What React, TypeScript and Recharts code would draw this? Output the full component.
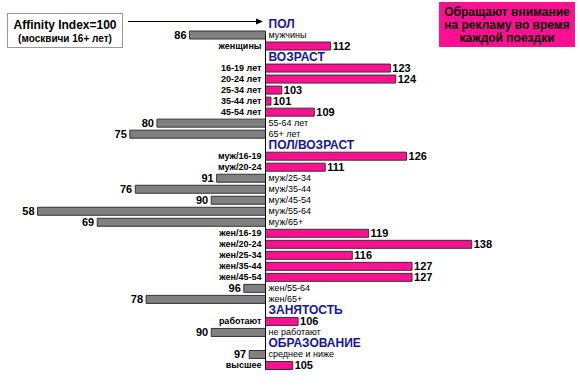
import React from 'react';
import { BarChart, Bar, XAxis, YAxis, Cell, LabelList, ReferenceLine } from 'recharts';

// rows top to bottom; null value = section header
const categories = [
  'ПОЛ', 'мужчины', 'женщины',
  'ВОЗРАСТ', '16-19 лет', '20-24 лет', '25-34 лет', '35-44 лет', '45-54 лет', '55-64 лет', '65+ лет',
  'ПОЛ/ВОЗРАСТ', 'муж/16-19', 'муж/20-24', 'муж/25-34', 'муж/35-44', 'муж/45-54', 'муж/55-64', 'муж/65+',
  'жен/16-19', 'жен/20-24', 'жен/25-34', 'жен/35-44', 'жен/45-54', 'жен/55-64', 'жен/65+',
  'ЗАНЯТОСТЬ', 'работают', 'не работают',
  'ОБРАЗОВАНИЕ', 'среднее и ниже', 'высшее',
];
const values: (number | null)[] = [
  null, 86, 112,
  null, 123, 124, 103, 101, 109, 80, 75,
  null, 126, 111, 91, 76, 90, 58, 69,
  119, 138, 116, 127, 127, 96, 78,
  null, 106, 90,
  null, 97, 105,
];
const BASE = 100;

const data = categories.map((name, i) => ({
  name,
  value: values[i],
  delta: values[i] == null ? null : (values[i] as number) - BASE,
}));

const W = 580;
const H = 392;
const YW = 1;
const M = { top: 18, right: 54, bottom: 21.5, left: 4 };
const XMIN = -48;
const XMAX = 48;
const CX = M.left + YW + ((W - M.left - YW - M.right) * (0 - XMIN)) / (XMAX - XMIN);

const PINK = '#FF1090';
const GREY = '#808080';
const FONT = '"Liberation Sans", Arial, sans-serif';

const renderTick = (props: any) => {
  const { y, payload } = props;
  const row = data.find(d => d.name === payload?.value);
  if (!row) return <g />;
  if (row.value == null) {
    return (
      <text x={CX + 3} y={y} dy={4} fontSize={12} fontWeight="bold" fill="#1515a0" fontFamily={FONT}>
        {row.name}
      </text>
    );
  }
  const pos = row.value >= BASE;
  return (
    <text
      x={pos ? CX - 4 : CX + 3}
      y={y}
      dy={3}
      textAnchor={pos ? 'end' : 'start'}
      fontSize={9}
      fontWeight={pos ? 'bold' : 'normal'}
      fill="#000"
      fontFamily={FONT}
    >
      {row.name}
    </text>
  );
};

const ValueLabel = (props: any) => {
  const vb = props.viewBox || {};
  const x = props.x ?? vb.x;
  const y = props.y ?? vb.y;
  const width = props.width ?? vb.width ?? 0;
  const height = props.height ?? vb.height ?? 0;
  const value = props.value;
  if (value == null || x == null) return null;
  const v = Number(value);
  const right = Math.max(x, x + width);
  const left = Math.min(x, x + width);
  return (
    <text
      x={v >= BASE ? right + 2 : left - 3}
      y={y + height / 2}
      dy={4}
      textAnchor={v >= BASE ? 'start' : 'end'}
      fontSize={11}
      fontWeight="bold"
      fill="#000"
      fontFamily={FONT}
    >
      {v}
    </text>
  );
};

const CenterLine = (props: any) => {
  const { x1, y1, x2, y2 } = props;
  return <line x1={x1} y1={y1 - 1} x2={x2} y2={y2 + 17} stroke="#000" strokeWidth={1} />;
};

export default function App() {
  return (
    <div style={{ position: 'absolute', left: 0, top: 0, width: W, height: H, background: '#fff', fontFamily: FONT }}>
      <BarChart width={W} height={H} data={data} layout="vertical" margin={M}>
        <XAxis type="number" domain={[XMIN, XMAX]} hide />
        <YAxis
          type="category"
          dataKey="name"
          width={YW}
          axisLine={false}
          tickLine={false}
          tick={renderTick}
          interval={0}
        />
        <ReferenceLine x={0} shape={<CenterLine />} />
        <Bar dataKey="delta" barSize={8} stroke="#333" strokeWidth={1} isAnimationActive={false}>
          {data.map((d, i) => (
            <Cell key={`c-${i}`} fill={d.value != null && d.value >= BASE ? PINK : GREY} />
          ))}
          <LabelList dataKey="value" content={<ValueLabel />} />
        </Bar>
      </BarChart>

      <div
        style={{
          position: 'absolute', left: 7, top: 13, width: 114, height: 33,
          border: '1px solid #999', textAlign: 'center', color: '#000', fontWeight: 'bold',
        }}
      >
        <div style={{ fontSize: 12, lineHeight: '14px', marginTop: 4 }}>Affinity Index=100</div>
        <div style={{ fontSize: 10, lineHeight: '13px' }}>(москвичи 16+ лет)</div>
      </div>

      <svg style={{ position: 'absolute', left: 0, top: 0 }} width={W} height={60}>
        <line x1={128} y1={21.5} x2={258} y2={21.5} stroke="#000" strokeWidth={1} />
        <polygon points="263,21.5 256,18.5 256,24.5" fill="#000" />
      </svg>

      <div
        style={{
          position: 'absolute', left: 439, top: 2, width: 136, height: 45,
          background: PINK, textAlign: 'center', color: '#000', fontWeight: 'bold',
          fontSize: 12, lineHeight: '13px', paddingTop: 4, boxSizing: 'border-box',
        }}
      >
        Обращают внимание<br />на рекламу во время<br />каждой поездки
      </div>
    </div>
  );
}
